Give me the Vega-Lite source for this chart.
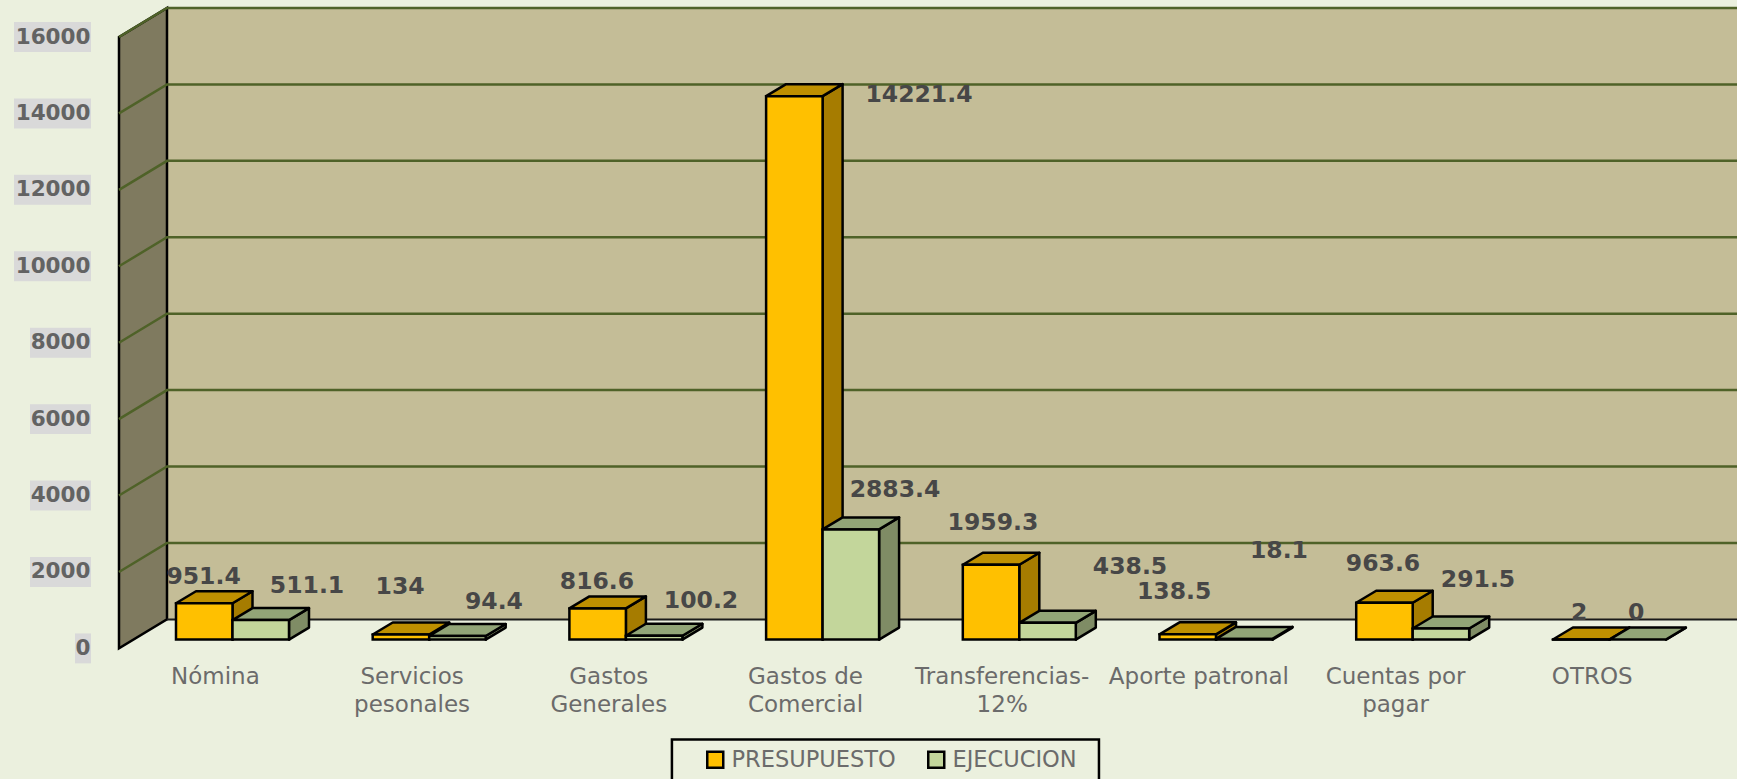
{"$schema":"https://vega.github.io/schema/vega-lite/v6.json","width":1618,"height":611.4,"autosize":{"type":"none"},"padding":{"left":119,"top":37,"right":0,"bottom":130.6},"background":"#EBF0DE","config":{"view":{"stroke":null},"font":"DejaVu Sans"},"datasets":{"bars":[{"category":"Nómina","series":"PRESUPUESTO","value":951.4},{"category":"Nómina","series":"EJECUCION","value":511.1},{"category":"Servicios pesonales","series":"PRESUPUESTO","value":134},{"category":"Servicios pesonales","series":"EJECUCION","value":94.4},{"category":"Gastos Generales","series":"PRESUPUESTO","value":816.6},{"category":"Gastos Generales","series":"EJECUCION","value":100.2},{"category":"Gastos de Comercial","series":"PRESUPUESTO","value":14221.4},{"category":"Gastos de Comercial","series":"EJECUCION","value":2883.4},{"category":"Transferencias-12%","series":"PRESUPUESTO","value":1959.3},{"category":"Transferencias-12%","series":"EJECUCION","value":438.5},{"category":"Aporte patronal","series":"PRESUPUESTO","value":138.5},{"category":"Aporte patronal","series":"EJECUCION","value":18.1},{"category":"Cuentas por pagar","series":"PRESUPUESTO","value":963.6},{"category":"Cuentas por pagar","series":"EJECUCION","value":291.5},{"category":"OTROS","series":"PRESUPUESTO","value":2},{"category":"OTROS","series":"EJECUCION","value":0}],"ticks":[{"tick":0},{"tick":2000},{"tick":4000},{"tick":6000},{"tick":8000},{"tick":10000},{"tick":12000},{"tick":14000},{"tick":16000}],"wall":[{"depth":0,"low":0,"high":16000},{"depth":0.244,"low":759,"high":16759}],"floor":[{"depth":0.244,"low":759,"high":16759},{"depth":8.2257,"low":759,"high":16759}],"legendbox":[{"a":2.811,"b":4.982,"low":-3700,"high":-2381}],"categories":[{"label":"Nómina","slot":0.49},{"label":"Servicios\npesonales","slot":1.49},{"label":"Gastos\nGenerales","slot":2.49},{"label":"Gastos de\nComercial","slot":3.49},{"label":"Transferencias-\n12%","slot":4.49},{"label":"Aporte patronal","slot":5.49},{"label":"Cuentas por\npagar","slot":6.49},{"label":"OTROS","slot":7.49}],"labels":[{"text":"951.4","slot":0.43,"level":1858},{"text":"511.1","slot":0.956,"level":1623},{"text":"134","slot":1.429,"level":1596},{"text":"94.4","slot":1.906,"level":1214},{"text":"816.6","slot":2.43,"level":1727},{"text":"100.2","slot":2.959,"level":1243},{"text":"14221.4","slot":4.067,"level":14473},{"text":"2883.4","slot":3.945,"level":4135},{"text":"1959.3","slot":4.443,"level":3271},{"text":"438.5","slot":5.14,"level":2120},{"text":"138.5","slot":5.364,"level":1466},{"text":"18.1","slot":5.897,"level":2539},{"text":"963.6","slot":6.426,"level":2198},{"text":"291.5","slot":6.909,"level":1780},{"text":"2","slot":7.423,"level":916},{"text":"0","slot":7.713,"level":916}]},"layer":[{"data":{"name":"floor"},"mark":{"type":"area","orient":"vertical","fill":"#C4BD97"},"encoding":{"x":{"field":"depth","type":"quantitative","scale":{"domain":[0,8.2257],"nice":false,"zero":false},"axis":null},"y":{"field":"high","type":"quantitative","scale":{"domain":[0,16000],"nice":false,"zero":false},"axis":{"values":[0,2000,4000,6000,8000,10000,12000,14000,16000],"format":"d","domain":false,"ticks":false,"grid":false,"title":null,"labelPadding":29,"labelFontSize":21.5,"labelFont":"DejaVu Sans","labelFontWeight":"bold","labelColor":"#636363","zindex":1}},"y2":{"field":"low"}}},{"data":{"name":"wall"},"mark":{"type":"area","orient":"vertical","fill":"#7F7A5F","stroke":"#000000","strokeWidth":2.5},"encoding":{"x":{"field":"depth","type":"quantitative"},"y":{"field":"high","type":"quantitative"},"y2":{"field":"low"}}},{"data":{"name":"ticks"},"transform":[{"filter":"datum.tick>0"},{"calculate":"[0,0.244,8.2257]","as":"depth"},{"flatten":["depth"]},{"calculate":"datum.tick+(datum.depth>0?759:0)","as":"level"}],"mark":{"type":"line","stroke":"#4F6228","strokeWidth":2.5},"encoding":{"x":{"field":"depth","type":"quantitative"},"y":{"field":"level","type":"quantitative"},"detail":{"field":"tick"}}},{"data":{"name":"floor"},"mark":{"type":"line","stroke":"#1a1a1a","strokeWidth":2},"encoding":{"x":{"field":"depth","type":"quantitative"},"y":{"field":"low","type":"quantitative"}}},{"data":{"name":"ticks"},"transform":[{"calculate":"-0.1423-(length(toString(datum.tick))*16+(datum.tick>0?-3:0))/196.7","as":"x0"},{"calculate":"-0.1423","as":"x1"},{"calculate":"datum.tick-392","as":"y0"},{"calculate":"datum.tick+392","as":"y1"}],"mark":{"type":"rect","fill":"#D9D9D9"},"encoding":{"x":{"field":"x0","type":"quantitative"},"x2":{"field":"x1"},"y":{"field":"y0","type":"quantitative"},"y2":{"field":"y1"}}},{"data":{"name":"bars"},"transform":[{"filter":"datum.series==='PRESUPUESTO'"},{"calculate":"indexof(['Nómina','Servicios pesonales','Gastos Generales','Gastos de Comercial','Transferencias-12%','Aporte patronal','Cuentas por pagar','OTROS'],datum.category)+0.2898+0.2872","as":"right"},{"calculate":"[0,1]","as":"t"},{"flatten":["t"]},{"calculate":"datum.right+datum.t*0.1017","as":"xs"},{"calculate":"230+datum.value+datum.t*314","as":"hi"},{"calculate":"230+datum.t*314","as":"lo"}],"mark":{"type":"area","orient":"vertical","fill":"#A67C00","stroke":"#000000","strokeWidth":2.5,"strokeJoin":"round"},"encoding":{"x":{"field":"xs","type":"quantitative"},"y":{"field":"hi","type":"quantitative"},"y2":{"field":"lo"},"detail":{"field":"category"}}},{"data":{"name":"bars"},"transform":[{"filter":"datum.series==='PRESUPUESTO'"},{"calculate":"indexof(['Nómina','Servicios pesonales','Gastos Generales','Gastos de Comercial','Transferencias-12%','Aporte patronal','Cuentas por pagar','OTROS'],datum.category)+0.2898","as":"left"},{"calculate":"[0,1]","as":"t"},{"flatten":["t"]},{"calculate":"datum.left+datum.t*0.1017","as":"xa"},{"calculate":"datum.left+0.2872+datum.t*0.1017","as":"xb"},{"calculate":"230+datum.value+datum.t*314","as":"hi"}],"mark":{"type":"area","orient":"horizontal","fill":"#BF9000","stroke":"#000000","strokeWidth":2.5,"strokeJoin":"round"},"encoding":{"y":{"field":"hi","type":"quantitative"},"x":{"field":"xa","type":"quantitative"},"x2":{"field":"xb"},"detail":{"field":"category"}}},{"data":{"name":"bars"},"transform":[{"filter":"datum.series==='PRESUPUESTO' && datum.value>0"},{"calculate":"indexof(['Nómina','Servicios pesonales','Gastos Generales','Gastos de Comercial','Transferencias-12%','Aporte patronal','Cuentas por pagar','OTROS'],datum.category)+0.2898","as":"left"},{"calculate":"datum.left+0.2872","as":"right"},{"calculate":"230+datum.value","as":"hi"},{"calculate":"230","as":"lo"}],"mark":{"type":"rect","stroke":"#000000","strokeWidth":2.5},"encoding":{"x":{"field":"left","type":"quantitative"},"x2":{"field":"right"},"y":{"field":"hi","type":"quantitative"},"y2":{"field":"lo"},"color":{"field":"series","type":"nominal","scale":{"domain":["PRESUPUESTO","EJECUCION"],"range":["#FFC000","#C3D69B"]},"legend":{"orient":"none","legendX":585,"legendY":711,"direction":"horizontal","title":null,"symbolType":"square","symbolSize":256,"symbolStrokeColor":"#000000","symbolStrokeWidth":2.5,"labelFontSize":22.5,"labelLimit":400,"labelColor":"#6b6b6b","labelFont":"DejaVu Sans","columnPadding":27,"labelOffset":5,"padding":0}}}},{"data":{"name":"bars"},"transform":[{"filter":"datum.series==='EJECUCION'"},{"calculate":"indexof(['Nómina','Servicios pesonales','Gastos Generales','Gastos de Comercial','Transferencias-12%','Aporte patronal','Cuentas por pagar','OTROS'],datum.category)+0.2898+0.2872+0.2872","as":"right"},{"calculate":"[0,1]","as":"t"},{"flatten":["t"]},{"calculate":"datum.right+datum.t*0.1017","as":"xs"},{"calculate":"230+datum.value+datum.t*314","as":"hi"},{"calculate":"230+datum.t*314","as":"lo"}],"mark":{"type":"area","orient":"vertical","fill":"#7F8C65","stroke":"#000000","strokeWidth":2.5,"strokeJoin":"round"},"encoding":{"x":{"field":"xs","type":"quantitative"},"y":{"field":"hi","type":"quantitative"},"y2":{"field":"lo"},"detail":{"field":"category"}}},{"data":{"name":"bars"},"transform":[{"filter":"datum.series==='EJECUCION'"},{"calculate":"indexof(['Nómina','Servicios pesonales','Gastos Generales','Gastos de Comercial','Transferencias-12%','Aporte patronal','Cuentas por pagar','OTROS'],datum.category)+0.2898+0.2872","as":"left"},{"calculate":"[0,1]","as":"t"},{"flatten":["t"]},{"calculate":"datum.left+datum.t*0.1017","as":"xa"},{"calculate":"datum.left+0.2872+datum.t*0.1017","as":"xb"},{"calculate":"230+datum.value+datum.t*314","as":"hi"}],"mark":{"type":"area","orient":"horizontal","fill":"#92A577","stroke":"#000000","strokeWidth":2.5,"strokeJoin":"round"},"encoding":{"y":{"field":"hi","type":"quantitative"},"x":{"field":"xa","type":"quantitative"},"x2":{"field":"xb"},"detail":{"field":"category"}}},{"data":{"name":"bars"},"transform":[{"filter":"datum.series==='EJECUCION' && datum.value>0"},{"calculate":"indexof(['Nómina','Servicios pesonales','Gastos Generales','Gastos de Comercial','Transferencias-12%','Aporte patronal','Cuentas por pagar','OTROS'],datum.category)+0.2898+0.2872","as":"left"},{"calculate":"datum.left+0.2872","as":"right"},{"calculate":"230+datum.value","as":"hi"},{"calculate":"230","as":"lo"}],"mark":{"type":"rect","stroke":"#000000","strokeWidth":2.5},"encoding":{"x":{"field":"left","type":"quantitative"},"x2":{"field":"right"},"y":{"field":"hi","type":"quantitative"},"y2":{"field":"lo"},"color":{"field":"series","type":"nominal"}}},{"data":{"name":"labels"},"mark":{"type":"text","align":"center","baseline":"middle","font":"DejaVu Sans","fontWeight":"bold","fontSize":23.5,"fill":"#474747"},"encoding":{"x":{"field":"slot","type":"quantitative"},"y":{"field":"level","type":"quantitative"},"text":{"field":"text","type":"nominal"}}},{"data":{"name":"categories"},"transform":[{"calculate":"-471","as":"level"}],"mark":{"type":"text","align":"center","baseline":"top","lineBreak":"\n","lineHeight":28,"font":"DejaVu Sans","fontSize":23,"fill":"#6b6b6b"},"encoding":{"x":{"field":"slot","type":"quantitative"},"y":{"field":"level","type":"quantitative"},"text":{"field":"label","type":"nominal"}}},{"data":{"name":"legendbox"},"mark":{"type":"rect","fill":null,"stroke":"#000000","strokeWidth":2.5},"encoding":{"x":{"field":"a","type":"quantitative"},"x2":{"field":"b"},"y":{"field":"high","type":"quantitative"},"y2":{"field":"low"}}}]}
